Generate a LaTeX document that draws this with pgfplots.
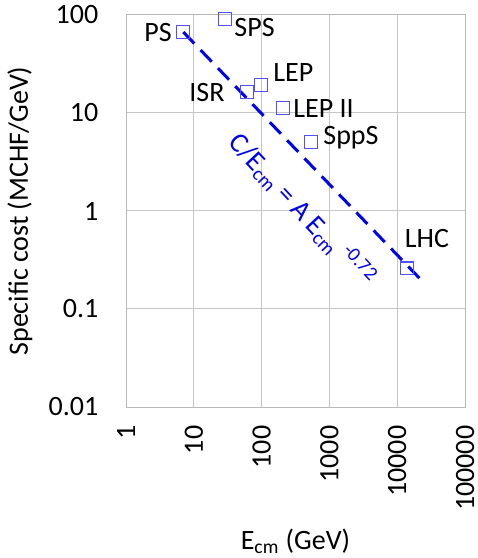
\documentclass[border=0pt]{standalone}
\usepackage{pgfplots}
\pgfplotsset{compat=1.18}
\usepackage{fontspec}
\setmainfont{Carlito}
\definecolor{mk}{RGB}{80,80,255}
\definecolor{ln}{RGB}{0,0,240}
\begin{document}
\fontsize{14}{16}\selectfont
\begin{tikzpicture}
\begin{axis}[
  name=ax,
  scale only axis,
  width=169.5pt, height=196pt,
  xmode=log, ymode=log,
  xmin=1, xmax=100000, ymin=0.01, ymax=100,
  xtick={1,10,100,1000,10000,100000},
  xticklabels={1,10,100,1000,10000,100000},
  ytick={0.01,0.1,1,10,100},
  yticklabels={0.01,0.1,1,10,100},
  minor tick num=0,
  xminorticks=false, yminorticks=false,
  major tick length=0pt,
  grid=major,
  major grid style={gray!45, line width=0.5pt},
  axis line style={gray!55, line width=0.5pt},
  tick label style={font=\fontsize{14}{16}\selectfont},
  /pgf/number format/assume math mode=true,
  yticklabel style={anchor=east, xshift=-9pt},
  xticklabel style={rotate=90, anchor=east, xshift=-4.5pt},
  every axis y label/.style={at={(axis description cs:0,0.5)}, xshift=-53pt, rotate=90, anchor=center, font=\fontsize{14}{16}\selectfont},
  every axis x label/.style={at={(axis description cs:0.5,0)}, yshift=-67pt, anchor=center, font=\fontsize{14}{16}\selectfont},
  xlabel={E\textsubscript{cm} (GeV)},
  ylabel={Specific cost (MCHF/GeV)},
  clip=false,
]
\addplot[ln, line width=1.5pt, dash pattern=on 8pt off 4.5pt] coordinates {(7,67) (25700,0.18)};
\addplot[only marks, mark=square, mark size=3.2pt, mark options={draw=mk, line width=0.6pt}] coordinates {
 (6.9,67) (29,91) (61,16.4) (98,19.3) (207,11.2) (536,5.06) (13900,0.26)
};
\node[anchor=east, inner sep=0pt] at (axis cs:4.77,67) {PS};
\node[anchor=west, inner sep=0pt] at (axis cs:39.2,75.4) {SPS};
\node[anchor=west, inner sep=0pt] at (axis cs:147,25.6) {LEP};
\node[anchor=east, inner sep=0pt] at (axis cs:28.8,16.0) {ISR};
\node[anchor=west, inner sep=0pt] at (axis cs:290,11.2) {LEP II};
\node[anchor=west, inner sep=0pt] at (axis cs:805,5.56) {SppS};
\node[anchor=center, inner sep=0pt] at (axis cs:27500,0.53) {LHC};
\node[anchor=center, inner sep=0pt, rotate=-47, text=ln] at (axis cs:394,1.02) {C/E\textsubscript{cm} = A E\textsubscript{cm}\,\textsuperscript{-0.72}};
\coordinate (sw) at (rel axis cs:0,0);
\coordinate (ne) at (rel axis cs:1,1);
\end{axis}
\pgfresetboundingbox
\path ([xshift=-63pt,yshift=-75.5pt]sw) rectangle ([xshift=6pt,yshift=7.5pt]ne);
\end{tikzpicture}
\end{document}
